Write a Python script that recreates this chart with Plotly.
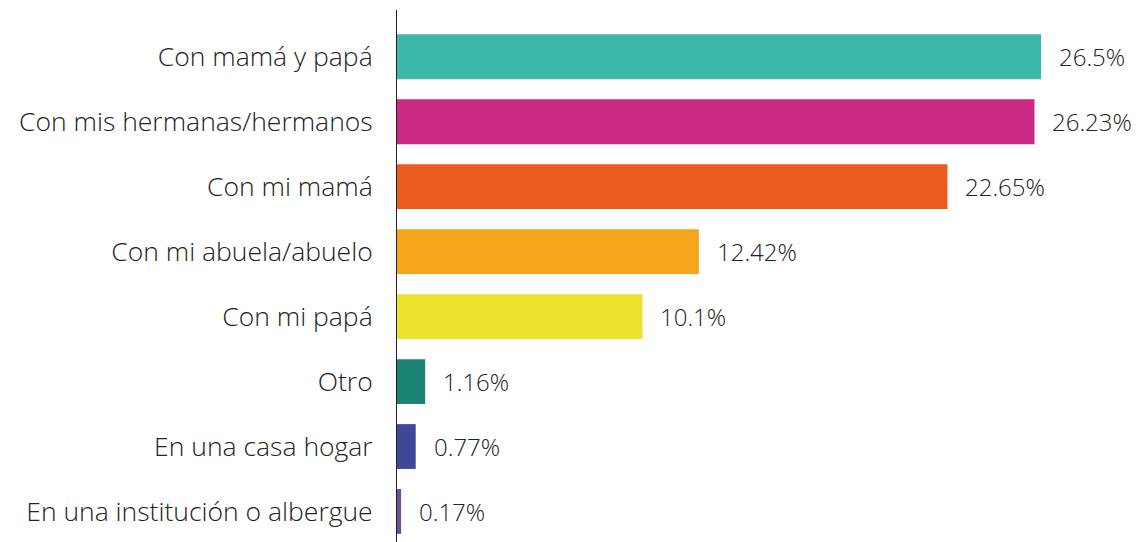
import plotly.graph_objects as go

categories = ["Con mamá y papá", "Con mis hermanas/hermanos", "Con mi mamá",
              "Con mi abuela/abuelo", "Con mi papá", "Otro",
              "En una casa hogar", "En una institución o albergue"]
values = [26.5, 26.23, 22.65, 12.42, 10.1, 1.16, 0.77, 0.17]
value_labels = ["26.5%", "26.23%", "22.65%", "12.42%", "10.1%", "1.16%", "0.77%", "0.17%"]
colors = ["#3db7aa", "#cd2a86", "#eb5c20", "#f5a61a", "#efe22b", "#1a8371", "#3f4898", "#6d5190"]

FONT = "Open Sans"

fig = go.Figure()
fig.add_trace(go.Bar(
    x=values, y=categories, orientation="h",
    marker=dict(color=colors, line=dict(width=0)),
    width=0.69, hoverinfo="skip",
))
for v, c, t in zip(values, categories, value_labels):
    fig.add_annotation(x=v, y=c, text=t, showarrow=False, xanchor="left",
                       xshift=16, font=dict(family=FONT, size=24, color="#222", weight=300))

fig.update_layout(
    width=1131, height=534,
    margin=dict(l=389, r=0, t=2, b=0),
    paper_bgcolor="white", plot_bgcolor="white",
    showlegend=False,
    xaxis=dict(range=[0, 30.53], visible=False, showgrid=False, zeroline=False),
    yaxis=dict(range=[7.47, -0.72], showline=True, linecolor="#222", linewidth=1,
               ticks="", showgrid=False, ticklabelstandoff=18,
               tickfont=dict(family=FONT, size=26.5, color="#222", weight=300)),
    font=dict(family=FONT),
)
fig.write_html("out.html")
